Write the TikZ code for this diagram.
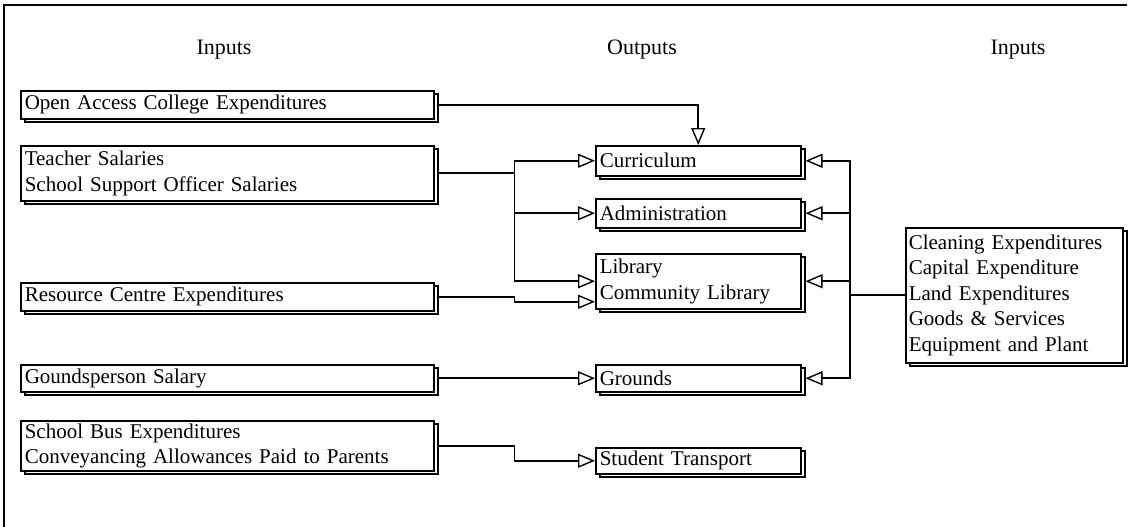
\documentclass[tikz,border=0pt]{standalone}
\usepackage{fontspec}
\setmainfont{Liberation Serif}
\usetikzlibrary{arrows.meta,shadows,calc}
\tikzset{
  box/.style={draw, fill=white, line width=1.5pt, anchor=north west, inner xsep=4pt, inner ysep=0pt,
    align=left, font=\fontsize{21}{25.5}\selectfont,
    copy shadow={shadow xshift=4pt, shadow yshift=-3pt}},
  conn/.style={line width=1.7pt},
  arr/.style={conn, -{Triangle[open, length=17pt, width=14pt, line width=1.4pt]}},
  head/.style={font=\fontsize{22}{26}\selectfont}
}
\begin{document}
\begin{tikzpicture}[x=1pt,y=-1pt]
\useasboundingbox (0,0) rectangle (1129,527);
\draw[line width=1.5pt] (4,527) -- (4,5) -- (1127,5);
\node[head] (h1) at (224,50) {Inputs};
\node[head] (h2) at (642,50) {Outputs};
\node[head] (h3) at (1018,50) {Inputs};
% left inputs
\node[box, minimum width=413pt, minimum height=28pt, text width=405pt] (oac) at (20,90) {Open Access College Expenditures};
\node[box, minimum width=413pt, minimum height=55pt, text width=405pt] (tea) at (20,145) {Teacher Salaries\\School Support Officer Salaries};
\node[box, minimum width=413pt, minimum height=28pt, text width=405pt] (res) at (20,282) {Resource Centre Expenditures};
\node[box, minimum width=413pt, minimum height=27pt, text width=405pt] (gro) at (20,364) {Goundsperson Salary};
\node[box, minimum width=413pt, minimum height=50pt, text width=405pt] (bus) at (20,420) {School Bus Expenditures\\Conveyancing Allowances Paid to Parents};
% outputs
\node[box, minimum width=205pt, minimum height=30pt, text width=197pt] (cur) at (595,145) {Curriculum};
\node[box, minimum width=205pt, minimum height=29pt, text width=197pt] (adm) at (595,198) {Administration};
\node[box, minimum width=205pt, minimum height=55pt, text width=197pt] (lib) at (595,253) {Library\\Community Library};
\node[box, minimum width=205pt, minimum height=27pt, text width=197pt] (grd) at (595,364) {Grounds};
\node[box, minimum width=205pt, minimum height=26pt, text width=197pt] (stu) at (595,447) {Student Transport};
% right inputs
\node[box, minimum width=217pt, minimum height=135pt, text width=211pt, inner xsep=3pt] (rin) at (905,227) {Cleaning Expenditures\\Capital Expenditure\\Land Expenditures\\Goods \& Services\\Equipment and Plant};
% connectors from left
\draw[arr] ([xshift=4pt]oac.east) -| (cur.north);
\draw[conn] ([xshift=4pt]tea.east) -- ++(76,0) coordinate (j1);
\draw[arr] (j1) |- (cur.west);
\draw[arr] (j1) |- (adm.west);
\draw[arr] (j1) |- (lib.west);
\draw[arr] ([xshift=4pt]res.east) -- ++(76,0) |- ($(lib.west)+(0,20.5)$);
\draw[arr] ([xshift=4pt]gro.east) -- (grd.west);
\draw[arr] ([xshift=4pt]bus.east) -- ++(76,0) |- (stu.west);
% connectors from right
\coordinate (rj) at (rin.west -| 850,0);
\draw[conn] (rin.west) -- (rj);
\draw[arr] (rj) |- ([xshift=4pt]cur.east);
\draw[arr] (rj) |- ([xshift=4pt]adm.east);
\draw[arr] (rj) |- ([xshift=4pt]lib.east);
\draw[arr] (rj) |- ([xshift=4pt]grd.east);
\end{tikzpicture}
\end{document}
